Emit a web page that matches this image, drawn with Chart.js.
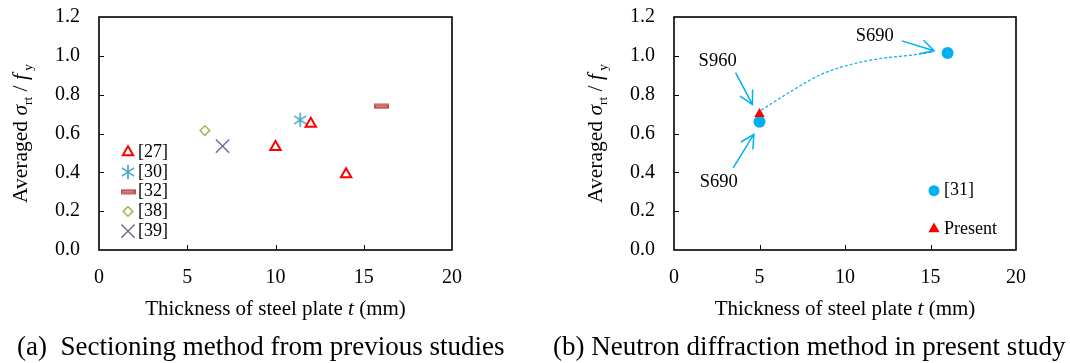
<!DOCTYPE html>
<html>
<head>
<meta charset="utf-8">
<script src="https://cdn.jsdelivr.net/npm/chart.js@4.4.1/dist/chart.umd.min.js"></script>
<style>
  body { margin: 0; background: #fff; width: 1070px; height: 363px; overflow: hidden; position: relative; }
  canvas { position: absolute; top: 0; }
  #chartA { left: 0; }
  #chartB { left: 535px; }
</style>
</head>
<body>
<canvas id="chartA" width="535" height="363"></canvas>
<canvas id="chartB" width="535" height="363"></canvas>
<script>
const xTicks = [0, 5, 10, 15, 20];
const yTicks = [0, 0.2, 0.4, 0.6, 0.8, 1.0, 1.2];

// (a) sectioning method, previous studies
const ref27X = [10, 12, 14];
const ref27Y = [0.53, 0.65, 0.39];
const ref30X = [11.4];
const ref30Y = [0.67];
const ref32X = [16];
const ref32Y = [0.74];
const ref38X = [6];
const ref38Y = [0.615];
const ref39X = [7];
const ref39Y = [0.535];
const labelsA = ['[27]', '[30]', '[32]', '[38]', '[39]'];

// (b) neutron diffraction, present study
const ref31X = [5, 16];
const ref31Y = [0.66, 1.015];
const presentX = [5];
const presentY = [0.70];
const labelsB = ['[31]', 'Present'];

// dashed guide curve from S960 point to S690 point
const guideX = [5.1, 6.8, 8.5, 10.1, 12.0, 14.0, 15.2];
const guideY = [0.72, 0.815, 0.90, 0.95, 0.985, 1.005, 1.02];

// arrow notes on (b), in axis units
const noteText = ['S960', 'S690', 'S690'];
const noteTextX = [1.44, 1.50, 10.63];
const noteTextY = [0.947, 0.323, 1.075];
const noteFromX = [3.60, 3.46, 13.32];
const noteFromY = [0.914, 0.423, 1.077];
const noteToX = [4.59, 4.67, 15.21];
const noteToY = [0.749, 0.595, 1.026];

const SERIF = '"Liberation Serif", "Times New Roman", serif';
const BLUE = '#00B0F0';

function pts(xs, ys) {
  return xs.map((x, i) => ({ x: x, y: ys[i] }));
}

function markerCanvas(w, h, draw) {
  const c = document.createElement('canvas');
  c.width = w;
  c.height = h;
  draw(c.getContext('2d'));
  return c;
}

const asterisk = markerCanvas(18, 18, g => {
  const c = 9, r = 7.3;
  g.strokeStyle = '#4BACC6';
  g.lineWidth = 1.7;
  g.beginPath();
  g.moveTo(c, c - r);
  g.lineTo(c, c + r);
  [0.6, -0.6].forEach(a => {
    g.moveTo(c - r * Math.cos(a), c - r * Math.sin(a));
    g.lineTo(c + r * Math.cos(a), c + r * Math.sin(a));
  });
  g.stroke();
});

const dash = markerCanvas(15, 6, g => {
  g.fillStyle = '#C0504D';
  g.fillRect(0, 0.5, 15, 5);
  g.fillStyle = '#E4A9A7';
  g.fillRect(2, 2.5, 11, 1);
});

function richText(ctx, parts, x, y, size) {
  const fontFor = p => (p.italic ? 'italic ' : '') + (p.sub ? size * 0.62 : size) + 'px ' + SERIF;
  let w = 0;
  parts.forEach(p => { ctx.font = fontFor(p); w += ctx.measureText(p.t).width; });
  let cx = x - w / 2;
  ctx.textAlign = 'left';
  ctx.textBaseline = 'alphabetic';
  parts.forEach(p => {
    ctx.font = fontFor(p);
    ctx.fillText(p.t, cx, y + (p.sub ? size * 0.22 : 0));
    cx += ctx.measureText(p.t).width;
  });
}

const yTitle = [
  { t: 'Averaged ' }, { t: 'σ', italic: true }, { t: 'rt', sub: true },
  { t: ' / ' }, { t: 'f', italic: true }, { t: ' ', sub: true }, { t: 'y', sub: true }
];
const xTitle = [{ t: 'Thickness of steel plate ' }, { t: 't', italic: true }, { t: ' (mm)' }];

function drawLegend(chart, items) {
  const ctx = chart.ctx;
  items.forEach(it => {
    const ds = chart.data.datasets[it.index];
    ctx.save();
    ctx.fillStyle = ds.backgroundColor;
    ctx.strokeStyle = ds.borderColor;
    ctx.lineWidth = ds.borderWidth;
    Chart.helpers.drawPoint(ctx, {
      pointStyle: ds.pointStyle,
      radius: it.radius || ds.pointRadius,
      rotation: 0,
      borderWidth: ds.borderWidth
    }, it.x, it.y);
    ctx.restore();
    ctx.fillStyle = '#000';
    ctx.font = '18px ' + SERIF;
    ctx.textAlign = 'left';
    ctx.textBaseline = 'middle';
    ctx.fillText(ds.label, it.x + it.gap, it.y);
  });
}

function decoPlugin(opts) {
  return {
    id: 'deco',
    afterDraw(chart) {
      const ctx = chart.ctx, a = chart.chartArea;
      const xs = chart.scales.x, ys = chart.scales.y;
      ctx.save();
      ctx.strokeStyle = '#000';
      ctx.lineWidth = 1;
      ctx.beginPath();
      xTicks.slice(1, -1).forEach(v => {
        const px = Math.round(xs.getPixelForValue(v)) + 0.5;
        ctx.moveTo(px, a.bottom);
        ctx.lineTo(px, a.bottom - 5);
      });
      yTicks.slice(1, -1).forEach(v => {
        const py = Math.round(ys.getPixelForValue(v)) + 0.5;
        ctx.moveTo(a.left, py);
        ctx.lineTo(a.left + 5, py);
      });
      ctx.stroke();
      ctx.lineWidth = 1.6;
      ctx.strokeRect(a.left, a.top, a.right - a.left, a.bottom - a.top);

      ctx.fillStyle = '#000';
      richText(ctx, xTitle, (a.left + a.right) / 2, 315, 21);
      ctx.save();
      ctx.translate(a.left - 72, (a.top + a.bottom) / 2);
      ctx.rotate(-Math.PI / 2);
      richText(ctx, yTitle, 0, 0, 21.5);
      ctx.restore();

      ctx.font = '27px ' + SERIF;
      ctx.textAlign = 'left';
      ctx.textBaseline = 'alphabetic';
      ctx.fillText(opts.caption, opts.captionX, 355);

      opts.legend(chart);
      if (opts.notes) opts.notes(chart);
      ctx.restore();
    }
  };
}

function arrow(ctx, x1, y1, x2, y2) {
  const ang = Math.atan2(y2 - y1, x2 - x1), len = 15, half = 0.49;
  ctx.beginPath();
  ctx.moveTo(x1, y1);
  ctx.lineTo(x2, y2);
  ctx.moveTo(x2 - len * Math.cos(ang - half), y2 - len * Math.sin(ang - half));
  ctx.lineTo(x2, y2);
  ctx.lineTo(x2 - len * Math.cos(ang + half), y2 - len * Math.sin(ang + half));
  ctx.stroke();
}

function axes(yWidth) {
  const font = { family: SERIF, size: 20 };
  return {
    x: {
      type: 'linear', min: 0, max: 20,
      grid: { display: false, drawTicks: false },
      border: { display: false },
      afterBuildTicks: s => { s.ticks = xTicks.map(v => ({ value: v })); },
      afterFit: s => { s.height = 113; s.paddingLeft = 0; s.paddingRight = 0; },
      ticks: { font: font, color: '#000', padding: 16, maxRotation: 0, autoSkip: false, callback: v => String(v) }
    },
    y: {
      type: 'linear', min: 0, max: 1.2,
      grid: { display: false, drawTicks: false },
      border: { display: false },
      afterBuildTicks: s => { s.ticks = yTicks.map(v => ({ value: v })); },
      afterFit: s => { s.width = yWidth; s.paddingTop = 0; s.paddingBottom = 0; },
      ticks: { font: font, color: '#000', padding: 19, autoSkip: false, callback: v => v.toFixed(1) }
    }
  };
}

const baseOptions = (yWidth, rightPad) => ({
  responsive: false,
  animation: false,
  devicePixelRatio: 1,
  events: [],
  layout: { padding: { left: 0, right: rightPad, top: 17, bottom: 0 } },
  plugins: { legend: { display: false }, tooltip: { enabled: false } },
  scales: axes(yWidth)
});

new Chart(document.getElementById('chartA'), {
  type: 'scatter',
  data: {
    datasets: [
      { label: labelsA[0], data: pts(ref27X, ref27Y), pointStyle: 'triangle', pointRadius: 6,
        borderColor: '#FF0000', backgroundColor: 'rgba(255,255,255,0)', borderWidth: 2 },
      { label: labelsA[1], data: pts(ref30X, ref30Y), pointStyle: asterisk, pointRadius: 7,
        borderColor: '#4BACC6', backgroundColor: '#4BACC6', borderWidth: 0 },
      { label: labelsA[2], data: pts(ref32X, ref32Y), pointStyle: dash, pointRadius: 7,
        borderColor: '#C0504D', backgroundColor: '#C0504D', borderWidth: 0 },
      { label: labelsA[3], data: pts(ref38X, ref38Y), pointStyle: 'rectRot', pointRadius: 4.8,
        borderColor: '#9BBB59', backgroundColor: '#FFFFFF', borderWidth: 1.5 },
      { label: labelsA[4], data: pts(ref39X, ref39Y), pointStyle: 'crossRot', pointRadius: 9.4,
        borderColor: '#8064A2', backgroundColor: '#8064A2', borderWidth: 1.5 }
    ]
  },
  options: baseOptions(99, 83),
  plugins: [decoPlugin({
    caption: '(a)  Sectioning method from previous studies',
    captionX: 17,
    legend: chart => {
      const a = chart.chartArea;
      drawLegend(chart, labelsA.map((l, i) => ({ index: i, x: a.left + 29, y: 152.3 + i * 19.7, gap: 10 })));
    }
  })]
});

new Chart(document.getElementById('chartB'), {
  type: 'scatter',
  data: {
    datasets: [
      { label: labelsB[0], data: pts(ref31X, ref31Y), pointStyle: 'circle', pointRadius: 6,
        borderColor: BLUE, backgroundColor: BLUE, borderWidth: 0, order: 1 },
      { label: labelsB[1], data: pts(presentX, presentY), pointStyle: 'triangle', pointRadius: 6,
        borderColor: '#FF0000', backgroundColor: '#FF0000', borderWidth: 0, order: 0 },
      { label: 'guide', data: pts(guideX, guideY), showLine: true, pointRadius: 0,
        borderColor: BLUE, borderWidth: 1.2, borderDash: [3, 2], cubicInterpolationMode: 'monotone',
        fill: false, order: 2 }
    ]
  },
  options: baseOptions(139, 54),
  plugins: [decoPlugin({
    caption: '(b) Neutron diffraction method in present study',
    captionX: 18,
    legend: chart => {
      const a = chart.chartArea;
      drawLegend(chart, [
        { index: 0, x: a.right - 82, y: 190.7, gap: 10, radius: 5.5 },
        { index: 1, x: a.right - 82, y: 229, gap: 10, radius: 6.5 }
      ]);
    },
    notes: chart => {
      const ctx = chart.ctx, xs = chart.scales.x, ys = chart.scales.y;
      ctx.strokeStyle = BLUE;
      ctx.lineWidth = 1.5;
      ctx.fillStyle = '#000';
      ctx.font = '18.5px ' + SERIF;
      ctx.textAlign = 'left';
      ctx.textBaseline = 'alphabetic';
      noteText.forEach((t, i) => {
        arrow(ctx, xs.getPixelForValue(noteFromX[i]), ys.getPixelForValue(noteFromY[i]),
          xs.getPixelForValue(noteToX[i]), ys.getPixelForValue(noteToY[i]));
        ctx.fillText(t, xs.getPixelForValue(noteTextX[i]), ys.getPixelForValue(noteTextY[i]));
      });
    }
  })]
});
</script>
</body>
</html>
